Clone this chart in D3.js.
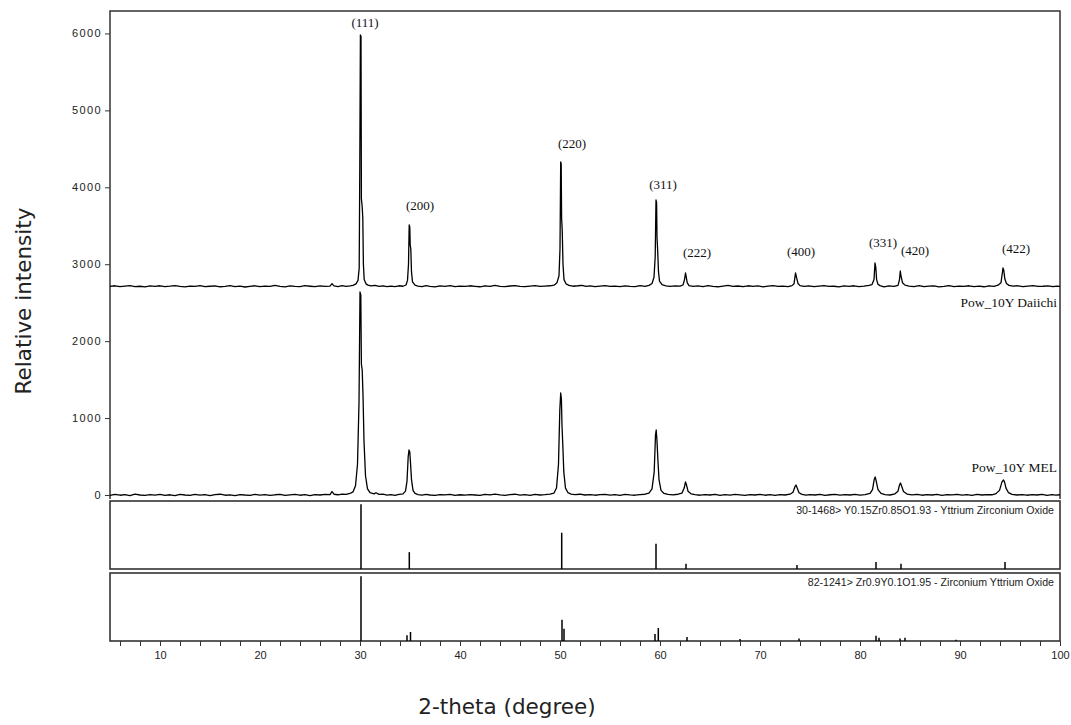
<!DOCTYPE html>
<html>
<head>
<meta charset="utf-8">
<script src="https://cdn.jsdelivr.net/npm/d3@7"></script>
<style>
  body { margin: 0; background: #fff; }
  #dataviz { width: 1071px; height: 725px; }
</style>
</head>
<body>
<div id="dataviz"></div>
<script>
// XRD patterns: [2-theta, counts]
var daiichi = [
  [5,2712],[5.5,2720],[6,2708],[6.5,2716],[7,2722],[7.5,2710],[8,2714],[8.5,2706],[9,2718],[9.5,2712],
  [10,2720],[10.5,2709],[11,2715],[11.5,2723],[12,2711],[12.5,2705],[13,2716],[13.5,2712],[14,2721],[14.5,2708],
  [15,2714],[15.5,2719],[16,2707],[16.5,2713],[17,2722],[17.5,2710],[18,2716],[18.5,2704],[19,2712],[19.5,2720],
  [20,2709],[20.5,2715],[21,2711],[21.5,2724],[22,2713],[22.5,2706],[23,2718],[23.5,2712],[24,2709],[24.5,2721],
  [25,2714],[25.5,2708],[26,2719],[26.5,2712],[27,2716],[27.2,2748],[27.4,2718],[27.8,2710],[28.2,2722],[28.6,2712],
  [29,2718],[29.3,2725],[29.6,2745],[29.8,2790],[29.92,2950],[29.98,4300],[30.04,5980],[30.1,5960],[30.14,3850],[30.22,3744],
  [30.28,3600],[30.34,3000],[30.42,2800],[30.6,2745],[30.8,2728],[31.1,2718],[31.5,2726],[31.9,2712],[32.3,2719],[32.7,2708],
  [33.1,2716],[33.5,2710],[33.9,2720],[34.3,2714],[34.6,2730],[34.75,2790],[34.85,3000],[34.92,3510],[34.98,3480],[35.02,3250],
  [35.08,3200],[35.15,2900],[35.25,2770],[35.5,2728],[35.8,2716],[36.2,2710],[36.6,2721],[37,2713],[37.5,2706],[38,2718],
  [38.5,2712],[39,2722],[39.5,2709],[40,2715],[40.5,2711],[41,2720],[41.5,2713],[42,2707],[42.5,2719],[43,2711],
  [43.5,2726],[44,2713],[44.5,2709],[45,2717],[45.5,2721],[46,2712],[46.5,2708],[47,2716],[47.5,2723],[48,2711],
  [48.5,2715],[49,2720],[49.4,2728],[49.7,2760],[49.9,2850],[50,3200],[50.07,4329],[50.12,4300],[50.16,3600],[50.22,3450],
  [50.3,3000],[50.4,2800],[50.6,2745],[50.9,2725],[51.3,2714],[51.8,2720],[52.2,2726],[52.6,2712],[53,2718],[53.5,2709],
  [54,2716],[54.5,2722],[55,2711],[55.5,2715],[56,2708],[56.5,2719],[57,2713],[57.5,2710],[58,2721],[58.5,2712],
  [58.9,2725],[59.2,2750],[59.4,2830],[59.52,3100],[59.6,3835],[59.66,3800],[59.7,3350],[59.76,3200],[59.85,2900],[59.95,2780],
  [60.2,2735],[60.6,2720],[61,2712],[61.5,2718],[62,2716],[62.3,2730],[62.45,2800],[62.55,2886],[62.62,2840],[62.72,2760],
  [62.9,2722],[63.3,2712],[63.8,2719],[64.3,2710],[64.8,2722],[65.3,2713],[65.8,2707],[66.3,2716],[66.8,2724],[67.3,2711],
  [67.8,2717],[68.3,2709],[68.8,2720],[69.3,2713],[69.8,2718],[70.3,2706],[70.8,2715],[71.3,2721],[71.8,2712],[72.3,2716],
  [72.8,2709],[73.2,2722],[73.4,2745],[73.55,2886],[73.65,2830],[73.8,2750],[74,2722],[74.4,2713],[74.9,2719],[75.4,2710],
  [75.9,2716],[76.4,2723],[76.9,2711],[77.4,2714],[77.9,2706],[78.4,2718],[78.9,2712],[79.4,2720],[79.9,2710],[80.4,2716],
  [80.9,2724],[81.2,2735],[81.4,2800],[81.5,3016],[81.58,2960],[81.66,2800],[81.8,2740],[82,2722],[82.4,2705],[82.9,2718],
  [83.4,2712],[83.8,2725],[83.95,2800],[84.03,2912],[84.1,2850],[84.25,2760],[84.5,2728],[84.9,2716],[85.4,2710],[85.9,2721],
  [86.4,2708],[86.9,2715],[87.4,2719],[87.9,2706],[88.4,2713],[88.9,2722],[89.4,2710],[89.9,2716],[90.4,2712],[90.9,2720],
  [91.4,2709],[91.9,2715],[92.4,2707],[92.9,2718],[93.4,2713],[93.8,2728],[94.1,2760],[94.3,2951],[94.38,2920],[94.48,2810],
  [94.65,2750],[94.9,2725],[95.3,2715],[95.8,2720],[96.3,2709],[96.8,2716],[97.3,2723],[97.8,2711],[98.3,2714],[98.8,2719],
  [99.3,2708],[99.7,2716],[100,2712]
];

var mel = [
  [5,-5],[5.5,8],[6,-3],[6.5,5],[7,-8],[7.5,10],[8,0],[8.5,-6],[9,6],[9.5,-2],
  [10,9],[10.5,-4],[11,3],[11.5,-9],[12,7],[12.5,0],[13,-5],[13.5,8],[14,-2],[14.5,5],
  [15,-7],[15.5,4],[16,10],[16.5,-3],[17,2],[17.5,-8],[18,6],[18.5,0],[19,-4],[19.5,9],
  [20,-1],[20.5,5],[21,-6],[21.5,3],[22,8],[22.5,-5],[23,1],[23.5,7],[24,-3],[24.5,4],
  [25,-7],[25.5,6],[26,0],[26.5,8],[27,5],[27.2,45],[27.4,10],[27.8,3],[28.2,12],[28.6,8],
  [29,20],[29.3,40],[29.55,120],[29.75,400],[29.9,1200],[30,2639],[30.08,2600],[30.14,1700],[30.22,1625],[30.3,1300],
  [30.4,700],[30.55,250],[30.75,80],[31,30],[31.4,15],[31.6,30],[31.9,8],[32.3,12],[32.7,-2],[33.1,6],
  [33.5,-4],[33.9,8],[34.3,15],[34.55,50],[34.7,180],[34.82,500],[34.9,585],[34.98,560],[35.05,420],[35.15,200],
  [35.3,60],[35.5,20],[35.8,5],[36.2,-3],[36.6,7],[37,0],[37.5,-6],[38,5],[38.5,2],[39,9],
  [39.5,-4],[40,3],[40.5,-2],[41,6],[41.5,0],[42,-5],[42.5,8],[43,1],[43.5,12],[44,2],
  [44.5,-4],[45,6],[45.5,10],[46,-1],[46.5,4],[47,-6],[47.5,8],[48,0],[48.5,5],[49,12],
  [49.4,25],[49.65,90],[49.85,400],[49.98,1100],[50.07,1326],[50.14,1250],[50.2,900],[50.28,650],[50.38,300],[50.55,90],
  [50.8,30],[51.1,12],[51.5,5],[52,10],[52.5,0],[53,6],[53.5,-3],[54,5],[54.5,9],[55,-2],
  [55.5,4],[56,-5],[56.5,7],[57,1],[57.5,-3],[58,6],[58.5,10],[58.9,25],[59.2,80],[59.42,300],
  [59.55,780],[59.62,845],[59.7,700],[59.78,480],[59.9,200],[60.1,60],[60.4,20],[60.8,8],[61.3,2],[61.8,10],
  [62.2,25],[62.42,90],[62.55,169],[62.65,130],[62.8,50],[63.1,15],[63.5,4],[64,-3],[64.5,6],[65,0],
  [65.5,8],[66,-4],[66.5,5],[67,-1],[67.5,7],[68,2],[68.5,-5],[69,6],[69.5,0],[70,9],
  [70.5,-3],[71,4],[71.5,-6],[72,6],[72.5,0],[73,10],[73.3,35],[73.5,110],[73.6,130],[73.72,90],
  [73.9,30],[74.2,8],[74.6,-2],[75,5],[75.5,0],[76,7],[76.5,-4],[77,3],[77.5,9],[78,-2],
  [78.5,5],[79,0],[79.5,8],[80,-3],[80.5,6],[81,20],[81.25,70],[81.42,200],[81.52,234],[81.62,180],
  [81.8,70],[82.1,20],[82.5,5],[83,0],[83.5,15],[83.8,50],[83.95,130],[84.05,156],[84.15,120],[84.35,45],
  [84.7,12],[85.2,2],[85.7,8],[86.2,-3],[86.7,5],[87.2,0],[87.7,7],[88.2,-4],[88.7,6],[89.2,1],
  [89.7,9],[90.2,-2],[90.7,4],[91.2,-5],[91.7,7],[92.2,0],[92.7,6],[93.2,3],[93.6,18],[93.95,60],
  [94.2,170],[94.35,195],[94.45,170],[94.6,90],[94.85,30],[95.2,8],[95.7,0],[96.2,6],[96.7,-3],[97.2,5],
  [97.7,0],[98.2,7],[98.7,-4],[99.2,4],[99.6,-2],[100,3]
];

// reference cards: [2-theta, relative intensity]
var card1 = [[30.1,100],[34.93,26],[50.17,56],[59.6,39],[62.6,8],[73.7,6],[81.6,11],[84.1,8],[94.5,11]];
var card2 = [[30.1,100],[34.7,9],[35.05,14],[50.2,33],[50.4,19],[59.5,11],[59.83,20],[62.7,6],[68.0,3],
             [73.9,4],[81.6,8],[81.9,5],[84.0,4],[84.5,5],[89.6,2]];
var card1Name = "30-1468> Y0.15Zr0.85O1.93 - Yttrium Zirconium Oxide";
var card2Name = "82-1241> Zr0.9Y0.1O1.95 - Zirconium Yttrium Oxide";

// hkl annotations: label, 2-theta, counts
var hklLabels = ["(111)","(200)","(220)","(311)","(222)","(400)","(331)","(420)","(422)"];
var hklTheta = [30.5, 36.0, 51.2, 60.3, 63.7, 74.1, 82.3, 85.5, 95.6];
var hklCounts = [6084, 3705, 4511, 3978, 3094, 3107, 3224, 3120, 3146];

var seriesNames = ["Pow_10Y Daiichi", "Pow_10Y MEL"];
var seriesNameCounts = [2440, 300];

var yTicks = [0, 1000, 2000, 3000, 4000, 5000, 6000];
var xTicks = d3.range(6, 101, 2);

buildChart();

function buildChart(){
    var svg = d3.select("#dataviz")
    .append("svg")
        .attr("width", 1071)
        .attr("height", 725)
        .style("background", "#fff");

    var x = d3.scaleLinear().domain([5, 100]).range([110, 1060]);
    var y = d3.scaleLinear().domain([-52, 6292]).range([499, 11]);
    var y1 = d3.scaleLinear().domain([0, 105]).range([569, 501]);
    var y2 = d3.scaleLinear().domain([0, 105]).range([641, 573]);

    // frame of the main panel
    svg.append("path")
        .attr("d", "M" + x(5) + "," + y(-52) + "V" + y(6292) + "H" + x(100) + "V" + y(-52))
        .attr("fill", "none")
        .attr("stroke", "#333")
        .attr("stroke-width", 1.5);

    // y axis
    var yAxis = svg.append("g")
        .attr("transform", "translate(" + x(5) + ",0)")
        .call(d3.axisLeft(y).tickValues(yTicks).tickSize(5).tickPadding(3)
            .tickFormat(d3.format("d")));
    yAxis.select(".domain").remove();
    yAxis.selectAll("line").attr("stroke", "#333");
    yAxis.selectAll("text")
        .style("font-family", "'Liberation Sans', Arial, sans-serif")
        .style("font-size", "11px")
        .style("letter-spacing", "1.4px")
        .attr("fill", "#222");

    // patterns
    var line = d3.line()
        .x(function(d){ return x(d[0]); })
        .y(function(d){ return y(d[1]); });

    [daiichi, mel].forEach(function(s){
        svg.append("path")
            .datum(s)
            .attr("d", line)
            .attr("fill", "none")
            .attr("stroke", "#000")
            .attr("stroke-width", 1.3)
            .attr("stroke-linejoin", "round");
    });

    // hkl labels
    hklLabels.forEach(function(t, i){
        svg.append("text")
            .attr("x", x(hklTheta[i]))
            .attr("y", y(hklCounts[i]))
            .text(t)
            .style("font-family", "'Liberation Serif', 'Times New Roman', serif")
            .style("font-size", "13px")
            .style("text-anchor", "middle")
            .attr("fill", "#111");
    });

    // series names
    seriesNames.forEach(function(t, i){
        svg.append("text")
            .attr("x", x(100) - 3)
            .attr("y", y(seriesNameCounts[i]))
            .text(t)
            .style("font-family", "'Liberation Serif', 'Times New Roman', serif")
            .style("font-size", "13.5px")
            .style("text-anchor", "end")
            .attr("fill", "#111");
    });

    // reference card panels
    [[card1, y1, card1Name], [card2, y2, card2Name]].forEach(function(p){
        var ys = p[1];
        svg.append("rect")
            .attr("x", x(5))
            .attr("y", ys(105))
            .attr("width", x(100) - x(5))
            .attr("height", ys(0) - ys(105))
            .attr("fill", "none")
            .attr("stroke", "#333")
            .attr("stroke-width", 1.6);

        svg.selectAll(null)
            .data(p[0])
            .enter()
            .append("line")
                .attr("x1", function(d){ return x(d[0]); })
                .attr("x2", function(d){ return x(d[0]); })
                .attr("y1", ys(0))
                .attr("y2", function(d){ return ys(d[1]); })
                .attr("stroke", "#000")
                .attr("stroke-width", 1.5);

        svg.append("text")
            .attr("x", x(100) - 6)
            .attr("y", ys(105) + 12.5)
            .text(p[2])
            .style("font-family", "'Liberation Sans', Arial, sans-serif")
            .style("font-size", "10.6px")
            .style("text-anchor", "end")
            .attr("fill", "#222");
    });

    // x axis
    var xAxis = svg.append("g")
        .attr("transform", "translate(0," + y2(0) + ")")
        .call(d3.axisBottom(x).tickValues(xTicks).tickSize(5).tickPadding(5)
            .tickFormat(function(d){ return d % 10 === 0 ? d : ""; }));
    xAxis.select(".domain").remove();
    xAxis.selectAll("line").attr("stroke", "#333");
    xAxis.selectAll("text")
        .style("font-family", "'Liberation Sans', Arial, sans-serif")
        .style("font-size", "11px")
        .attr("fill", "#222");

    // axis titles
    svg.append("text")
        .attr("x", 507)
        .attr("y", 714)
        .text("2-theta (degree)")
        .style("font-family", "'DejaVu Sans', sans-serif")
        .style("font-size", "21.5px")
        .style("text-anchor", "middle")
        .attr("fill", "#222");

    svg.append("text")
        .attr("transform", "translate(31,301) rotate(-90)")
        .text("Relative intensity")
        .style("font-family", "'DejaVu Sans', sans-serif")
        .style("font-size", "21.5px")
        .style("text-anchor", "middle")
        .attr("fill", "#222");
}
</script>
</body>
</html>
